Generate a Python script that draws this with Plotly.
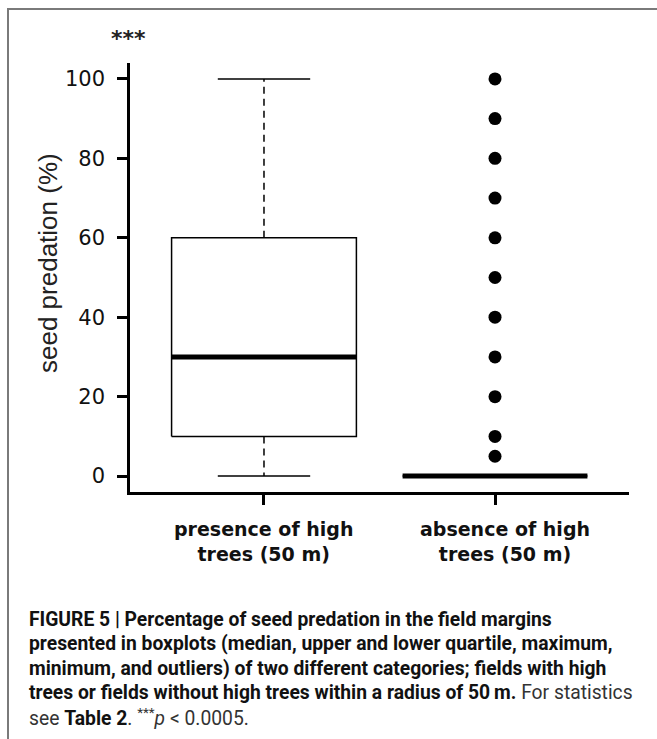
import plotly.graph_objects as go

# ---- data ----
categories = ["presence of high<br>trees (50 m)", "absence of high<br>trees (50 m)"]
q1 = [10, 0]
median = [30, 0]
q3 = [60, 0]
lower_whisker = [0, 0]
upper_whisker = [100, 0]
outliers = [[], [100, 90, 80, 70, 60, 50, 40, 30, 20, 10, 5]]
y_ticks = [0, 20, 40, 60, 80, 100]
y_title = "seed predation (%)"
signif = "***"
caption_lines = [
    "<b>FIGURE 5 | Percentage of seed predation in the field margins</b>",
    "<b>presented in boxplots (median, upper and lower quartile, maximum,</b>",
    "<b>minimum, and outliers) of two different categories; fields with high</b>",
    "<b>trees or fields without high trees within a radius of 50\u2009m.</b> "
    "<span style='color:#333'>For statistics</span>",
    "<span style='color:#333'>see</span> <b>Table 2</b><span style='color:#333'>. "
    "<sup>***</sup><i>p</i> &lt; 0.0005.</span>",
]

# ---- style ----
BOX_HALF = 0.4
CAP_HALF = 0.2
W, H = 657, 739
ML, MR, MT, MB = 130, 28, 63, 247
PW, PH = W - ML - MR, H - MT - MB


def px_x(p):
    return (p - ML) / PW


def px_y(p):
    return (H - MB - p) / PH


fig = go.Figure()

for i, cat in enumerate(categories):
    xc = i + 1
    # box
    fig.add_trace(go.Scatter(
        x=[xc - BOX_HALF, xc + BOX_HALF, xc + BOX_HALF, xc - BOX_HALF, xc - BOX_HALF],
        y=[q1[i], q1[i], q3[i], q3[i], q1[i]],
        mode="lines", line=dict(color="black", width=1.5),
        hoverinfo="skip", showlegend=False))
    # whiskers
    fig.add_trace(go.Scatter(
        x=[xc, xc, None, xc, xc],
        y=[q3[i], upper_whisker[i], None, q1[i], lower_whisker[i]],
        mode="lines", line=dict(color="black", width=1.5, dash="7px,5px"),
        hoverinfo="skip", showlegend=False))
    # caps
    fig.add_trace(go.Scatter(
        x=[xc - CAP_HALF, xc + CAP_HALF, None, xc - CAP_HALF, xc + CAP_HALF],
        y=[upper_whisker[i], upper_whisker[i], None, lower_whisker[i], lower_whisker[i]],
        mode="lines", line=dict(color="black", width=1.5),
        hoverinfo="skip", showlegend=False))
    # median
    fig.add_trace(go.Scatter(
        x=[xc - BOX_HALF, xc + BOX_HALF],
        y=[median[i], median[i]],
        mode="lines", line=dict(color="black", width=5),
        hoverinfo="skip", showlegend=False))
    # outliers
    if outliers[i]:
        fig.add_trace(go.Scatter(
            x=[xc] * len(outliers[i]), y=outliers[i],
            mode="markers", marker=dict(color="black", size=13),
            hoverinfo="skip", showlegend=False))
    # category label
    fig.add_annotation(
        x=xc, y=0, xref="x", yref="paper", yanchor="top",
        xshift=0 if i == 0 else 10, yshift=-24,
        text="<b>" + cat + "</b>", showarrow=False, align="center",
        font=dict(family="DejaVu Sans", size=19, color="#111"),
    )

fig.update_xaxes(
    range=[0.42, 2.58], tickvals=[1, 2], showticklabels=False,
    showline=True, linecolor="black", linewidth=2.5,
    ticks="outside", ticklen=10, tickwidth=3, tickcolor="black",
    showgrid=False, zeroline=False, fixedrange=True)
fig.update_yaxes(
    range=[-4, 104], tickvals=y_ticks,
    showline=True, linecolor="black", linewidth=2.5,
    ticks="outside", ticklen=10, tickwidth=3, tickcolor="black",
    ticklabelstandoff=8,
    tickfont=dict(family="DejaVu Sans", size=21, color="#111"),
    showgrid=False, zeroline=False, fixedrange=True)

# y title
fig.add_annotation(x=px_x(48), y=px_y(263), xref="paper", yref="paper",
                   text=y_title, textangle=-90, showarrow=False,
                   xanchor="center", yanchor="middle",
                   font=dict(family="Liberation Sans", size=26, color="#222"))
# significance stars
fig.add_annotation(x=px_x(128), y=px_y(38), xref="paper", yref="paper",
                   text="<b>" + signif + "</b>", showarrow=False,
                   xanchor="center", yanchor="middle",
                   font=dict(family="DejaVu Sans", size=22, color="#222"))
# caption, one annotation per line
for k, line in enumerate(caption_lines):
    fig.add_annotation(x=px_x(27), y=px_y(619 + 24.5 * k), xref="paper", yref="paper",
                       text=line, showarrow=False, xanchor="left", yanchor="middle",
                       align="left",
                       font=dict(family="Roboto", size=19.3, color="#111"))
# frame
fig.add_shape(type="rect", xref="paper", yref="paper",
              x0=px_x(8), x1=px_x(700), y0=px_y(800), y1=px_y(9),
              line=dict(color="#7a7a7a", width=2), fillcolor="rgba(0,0,0,0)", layer="below")

fig.update_layout(
    width=W, height=H,
    margin=dict(l=ML, r=MR, t=MT, b=MB, autoexpand=False),
    plot_bgcolor="white", paper_bgcolor="white",
    showlegend=False,
)

fig.write_html("out.html", config={"displayModeBar": False},
               post_script="document.body.style.margin='0';")
